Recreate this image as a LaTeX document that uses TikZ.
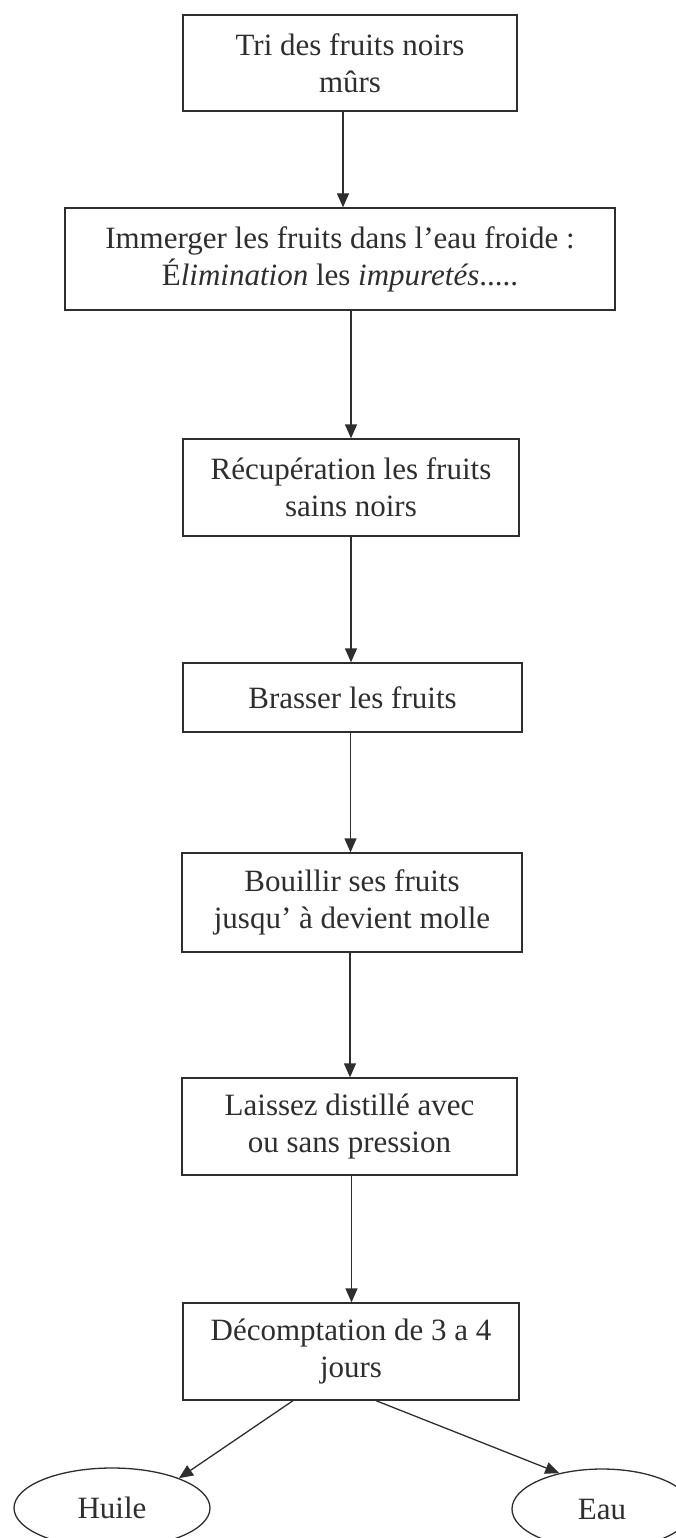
\documentclass[tikz,border=0pt]{standalone}
\usepackage{fontspec}
\setmainfont{Liberation Serif}
\usetikzlibrary{arrows.meta,shapes.geometric}
\definecolor{ink}{HTML}{2E2E2E}
\begin{document}
\begin{tikzpicture}[x=1pt,y=-1pt,
  stepbox/.style={draw=ink, line width=1.3pt, rectangle, align=center, text=ink,
    font=\fontsize{31}{37}\selectfont, inner sep=0pt},
  endnode/.style={draw=ink, line width=1.3pt, ellipse, text=ink,
    font=\fontsize{31}{37}\selectfont, inner sep=0pt},
  arr/.style={draw=ink, line width=1.3pt, -{Triangle[length=14pt,width=12pt]}}]
\useasboundingbox (0,0) rectangle (676,1538);
\node[stepbox, minimum width=334pt, minimum height=96pt] (b1) at (350,63) {Tri des fruits noirs\\mûrs};
\node[stepbox, minimum width=550pt, minimum height=102pt] (b2) at (340,259) {Immerger les fruits dans l’eau froide :\\É\textit{limination} les \textit{impuretés}.....};
\node[stepbox, minimum width=336pt, minimum height=97pt] (b3) at (351,487.5) {Récupération les fruits\\sains noirs};
\node[stepbox, minimum width=339pt, minimum height=69pt] (b4) at (352.5,697.5) {Brasser les fruits};
\node[stepbox, minimum width=340pt, minimum height=99pt] (b5) at (352,902.5) {Bouillir ses fruits\\jusqu’ à devient molle};
\node[stepbox, minimum width=335pt, minimum height=97pt] (b6) at (349.5,1126.5) {Laissez distillé avec\\ou sans pression};
\node[stepbox, minimum width=336pt, minimum height=97pt] (b7) at (351,1351.5) {Décomptation de 3 a 4\\jours};
\node[endnode, minimum width=196pt, minimum height=80pt] (huile) at (112,1508) {Huile};
\node[endnode, minimum width=180pt, minimum height=80pt] (eau) at (602,1509) {Eau};
\draw[arr] ([xshift=-7pt]b1.south) -- ([xshift=-7pt]b1.south |- b2.north);
\draw[arr] ([xshift=11pt]b2.south) -- ([xshift=11pt]b2.south |- b3.north);
\draw[arr] (b3.south) -- (b3.south |- b4.north);
\draw[arr] ([xshift=-2pt]b4.south) -- ([xshift=-2pt]b4.south |- b5.north);
\draw[arr] ([xshift=-2pt]b5.south) -- ([xshift=-2pt]b5.south |- b6.north);
\draw[arr] ([xshift=2pt]b6.south) -- ([xshift=2pt]b6.south |- b7.north);
\draw[arr] ([xshift=-58pt]b7.south) -- (huile.24);
\draw[arr] ([xshift=25pt]b7.south) -- (eau.140);
\end{tikzpicture}
\end{document}
